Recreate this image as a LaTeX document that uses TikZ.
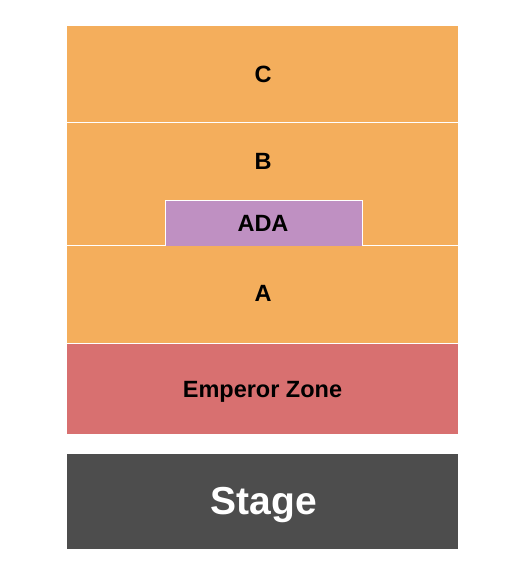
\documentclass[tikz,border=0pt]{standalone}
\usepackage{fontspec}
\setmainfont{Liberation Sans}
\definecolor{seatorange}{HTML}{F4AE5C}
\definecolor{zonered}{HTML}{D87070}
\definecolor{adapurple}{HTML}{BF90C2}
\definecolor{stagegray}{HTML}{4D4D4D}
\begin{document}
\begin{tikzpicture}[x=1pt,y=-1pt,
		divider/.style={draw=white,line width=1pt},
		seclabel/.style={font=\bfseries\fontsize{23.5}{27}\selectfont,inner sep=0pt,anchor=base}]
		\def\xl{67}       
		\def\xr{458}      
		\def\xm{263}      
		
		\useasboundingbox (0,0) rectangle (525,575);
		
		\foreach \sec/\ytop/\ybot/\ylab in {C/26/122.5/83, B/122.5/245.5/169.5, A/245.5/343/301.5} {
			\fill[seatorange] (\xl,\ytop) rectangle (\xr,\ybot);
			\node[seclabel] (lab\sec) at (\xm,\ylab) {\sec};
		}
		\fill[zonered] (\xl,343) rectangle (\xr,434);
		\node[seclabel] (labEZ) at (262.5,397) {Emperor Zone};
		
		\foreach \y in {122.5,245.5,343}
			\draw[divider] (\xl,\y) -- (\xr,\y);
		
		\filldraw[divider,fill=adapurple] (165,245.5) |- (362,200) -- (362,245.5);
		\node[seclabel] (labADA) at (\xm,231.5) {ADA};
		
		\fill[stagegray] (\xl,454) rectangle (\xr,549);
		\node[seclabel,text=white,font=\bfseries\fontsize{39}{44}\selectfont] (labStage) at (264,514) {Stage};
	\end{tikzpicture}
\end{document}
